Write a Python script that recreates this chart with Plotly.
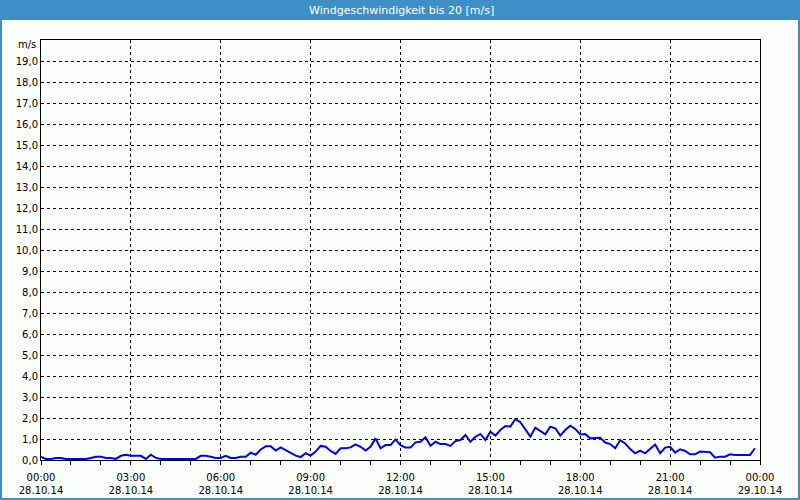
import plotly.graph_objects as go
import pandas as pd

# 10-minute wind speed samples, 28.10.14 00:00 .. 23:50 (m/s)
speed = [
    0.15, 0.05, 0.05, 0.10, 0.10, 0.05, 0.05, 0.05, 0.05, 0.05,
    0.10, 0.15, 0.15, 0.10, 0.10, 0.05, 0.20, 0.25, 0.20, 0.20,
    0.20, 0.05, 0.25, 0.10, 0.05, 0.05, 0.05, 0.05, 0.05, 0.05,
    0.05, 0.05, 0.20, 0.20, 0.15, 0.10, 0.10, 0.20, 0.10, 0.10,
    0.15, 0.15, 0.35, 0.25, 0.50, 0.65, 0.65, 0.45, 0.60, 0.48,
    0.32, 0.21, 0.14, 0.32, 0.21, 0.40, 0.67, 0.63, 0.43, 0.29,
    0.56, 0.56, 0.60, 0.74, 0.63, 0.45, 0.63, 1.03, 0.56, 0.71,
    0.71, 0.98, 0.71, 0.59, 0.59, 0.84, 0.87, 1.08, 0.68, 0.87,
    0.76, 0.76, 0.67, 0.90, 0.95, 1.19, 0.87, 1.11, 1.24, 0.95,
    1.35, 1.16, 1.43, 1.62, 1.59, 1.95, 1.80, 1.43, 1.11, 1.54,
    1.38, 1.22, 1.59, 1.51, 1.16, 1.43, 1.63, 1.48, 1.22, 1.24,
    1.03, 1.03, 1.06, 0.83, 0.76, 0.56, 0.95, 0.79, 0.52, 0.32,
    0.45, 0.32, 0.51, 0.74, 0.32, 0.59, 0.63, 0.35, 0.51, 0.43,
    0.27, 0.27, 0.40, 0.40, 0.37, 0.11, 0.16, 0.16, 0.27, 0.24,
    0.24, 0.24, 0.24, 0.56,
]
times = pd.date_range("2014-10-28 00:00", periods=len(speed), freq="10min")

x_tick_vals = pd.date_range("2014-10-28 00:00", "2014-10-29 00:00", freq="3h")
x_tick_text = [t.strftime("%H:%M") + "<br>" + t.strftime("%d.%m.%y") for t in x_tick_vals]
y_tick_vals = list(range(0, 20))
y_tick_text = [f"{v},0" for v in y_tick_vals]

title_text = "Windgeschwindigkeit bis 20 [m/s]"
unit_text = "m/s"

BG = "#fbfefb"
BLUE = "#3d8fc6"
W, H = 800, 500
ML, MR, MT, MB = 41, 40, 40, 40
PW, PH = W - ML - MR, H - MT - MB

def px(X):
    return (X - ML) / PW

def py(Y):
    return (H - MB - Y) / PH

fig = go.Figure()
fig.add_trace(go.Scatter(
    x=times, y=speed, mode="lines",
    line=dict(color="#0000ee", width=2),
    hoverinfo="x+y", showlegend=False,
))

font = dict(family="DejaVu Sans", size=10, color="black")

fig.update_layout(
    width=W, height=H,
    margin=dict(l=ML, r=MR, t=MT, b=MB, autoexpand=False),
    paper_bgcolor=BG, plot_bgcolor=BG,
    font=font,
    xaxis=dict(
        range=[x_tick_vals[0], x_tick_vals[-1]],
        tickvals=list(x_tick_vals), ticktext=x_tick_text,
        showgrid=True, gridcolor="black", gridwidth=1, griddash="3px,3px",
        showline=True, linecolor="black", linewidth=1, mirror=True,
        ticks="outside", ticklen=4, tickcolor="black",
        minor=dict(dtick=3600000, ticks="outside", ticklen=4, tickcolor="black", showgrid=False),
        zeroline=False, tickfont=font, automargin=False, ticklabelstandoff=4,
    ),
    yaxis=dict(
        range=[0, 20],
        tickvals=y_tick_vals, ticktext=y_tick_text,
        showgrid=True, gridcolor="black", gridwidth=1, griddash="3px,3px",
        showline=True, linecolor="black", linewidth=1, mirror=True,
        ticks="", zeroline=False, tickfont=font, automargin=False,
    ),
    shapes=[
        dict(type="rect", xref="paper", yref="paper",
             x0=px(0), x1=px(W), y0=py(0), y1=py(20),
             fillcolor=BLUE, line=dict(width=0), layer="above"),
        dict(type="rect", xref="paper", yref="paper",
             x0=px(1), x1=px(W - 1), y0=py(10), y1=py(H - 1),
             fillcolor="rgba(0,0,0,0)", line=dict(color=BLUE, width=2), layer="above"),
    ],
    annotations=[
        dict(text=title_text, xref="paper", yref="paper", x=px(401), y=py(10),
             xanchor="center", yanchor="middle", showarrow=False,
             font=dict(family="DejaVu Sans", size=11, color="white")),
        dict(text=unit_text, xref="paper", yref="paper", x=px(38), y=py(45),
             xanchor="right", yanchor="middle", showarrow=False, font=font),
    ],
)

fig.write_html("out.html")
